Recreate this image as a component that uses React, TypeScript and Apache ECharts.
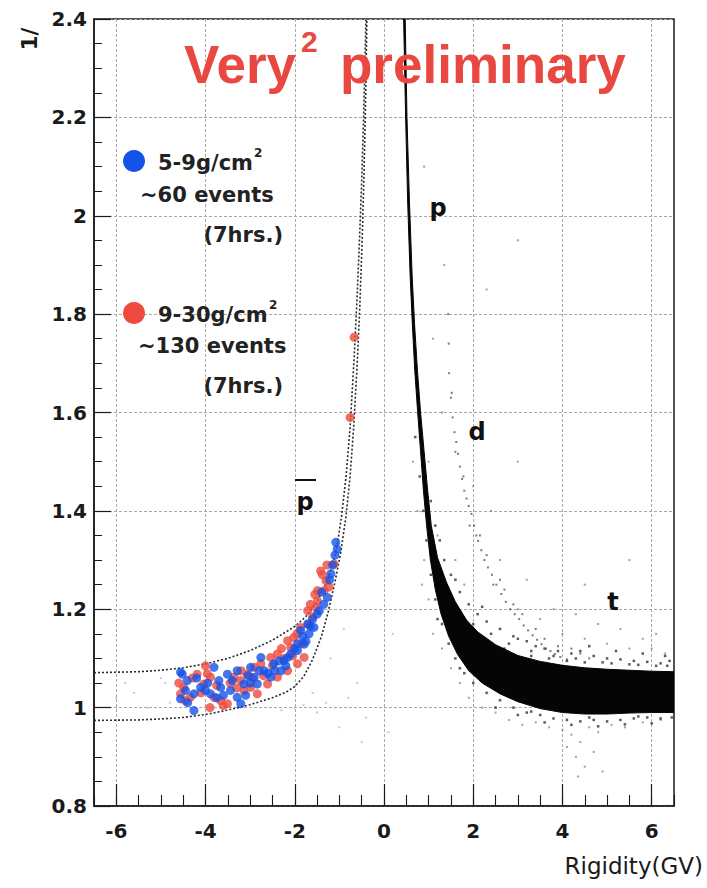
import React, { useEffect, useRef } from 'react';
import * as echarts from 'echarts';

// ---------- data ----------
const xTickValues = [-6, -4, -2, 0, 2, 4, 6];

// dashed band limits for antiprotons
const bandUpper = [
  [-6.5, 1.071], [-5.5, 1.073], [-5, 1.076], [-4.5, 1.081], [-4, 1.089], [-3.5, 1.1], [-3, 1.116],
  [-2.5, 1.137], [-2, 1.165], [-1.75, 1.185], [-1.5, 1.215], [-1.3, 1.252], [-1.15, 1.29], [-1.05, 1.33],
  [-0.95, 1.39], [-0.85, 1.47], [-0.76, 1.57], [-0.67, 1.71], [-0.6, 1.84], [-0.55, 1.95], [-0.5, 2.07],
  [-0.46, 2.19], [-0.43, 2.3], [-0.405, 2.4],
];
const bandLower = [
  [-6.5, 0.974], [-5.5, 0.975], [-5, 0.977], [-4.5, 0.98], [-4, 0.986], [-3.5, 0.995], [-3, 1.006],
  [-2.5, 1.02], [-2.2, 1.031], [-2, 1.043], [-1.8, 1.063], [-1.6, 1.098], [-1.4, 1.145], [-1.25, 1.195],
  [-1.1, 1.255], [-0.97, 1.315], [-0.85, 1.39], [-0.76, 1.47], [-0.68, 1.57], [-0.6, 1.7], [-0.54, 1.82],
  [-0.49, 1.95], [-0.45, 2.08], [-0.42, 2.2], [-0.4, 2.3], [-0.385, 2.4],
];

// proton band (dense core): outer edge and inner edge
const protonOuter = [
  [0.475, 2.4], [0.515, 2.2], [0.57, 2.03], [0.63, 1.88], [0.685, 1.78], [0.75, 1.685], [0.82, 1.6],
  [0.9, 1.52], [0.98, 1.44], [1.06, 1.37], [1.2, 1.305], [1.4, 1.255], [1.6, 1.215], [1.85, 1.178],
  [2.1, 1.154], [2.5, 1.128], [3.0, 1.106], [3.5, 1.094], [4.0, 1.086], [4.5, 1.081], [5.0, 1.078],
  [5.5, 1.076], [6.0, 1.074], [6.5, 1.073],
];
const protonInner = [
  [0.44, 2.4], [0.485, 2.2], [0.53, 2.03], [0.585, 1.88], [0.635, 1.78], [0.69, 1.685], [0.755, 1.6],
  [0.82, 1.52], [0.885, 1.44], [0.955, 1.37], [1.04, 1.3], [1.15, 1.24], [1.28, 1.19], [1.45, 1.145],
  [1.65, 1.108], [1.9, 1.075], [2.2, 1.05], [2.6, 1.028], [3.0, 1.012], [3.5, 0.998], [4.0, 0.99],
  [4.5, 0.987], [5.0, 0.987], [5.5, 0.989], [6.0, 0.99], [6.5, 0.99],
];

const protonFringe = [
  [1.05, 1.42], [1.15, 1.37], [1.25, 1.34], [1.35, 1.3], [1.5, 1.27], [1.7, 1.235], [1.9, 1.21], [2.1, 1.19],
  [2.3, 1.175], [2.6, 1.16], [2.9, 1.145], [3.2, 1.135], [3.4, 1.125], [3.6, 1.12], [3.9, 1.115], [4.2, 1.11],
  [4.4, 1.115], [4.7, 1.105], [5.0, 1.1], [5.3, 1.098], [5.6, 1.095], [5.9, 1.093], [6.2, 1.09], [6.4, 1.095],
  [2.4, 1.15], [2.8, 1.13], [3.3, 1.115], [3.8, 1.105], [4.3, 1.1], [4.9, 1.092], [5.5, 1.088], [6.1, 1.085],
  [4.6, 1.125], [5.2, 1.115], [5.8, 1.11], [6.3, 1.105], [3.0, 1.14], [2.2, 1.205], [1.6, 1.26],
  [0.7, 1.55], [0.8, 1.47], [0.88, 1.4], [0.95, 1.34], [1.05, 1.27], [1.15, 1.22], [1.3, 1.17], [1.45, 1.13],
  [1.6, 1.1], [1.8, 1.07], [2.0, 1.05], [2.3, 1.03], [2.6, 1.015], [2.9, 1.0], [3.2, 0.99], [3.5, 0.985],
  [3.8, 0.978], [4.1, 0.975], [4.4, 0.972], [4.7, 0.975], [5.0, 0.972], [5.3, 0.975], [5.6, 0.978],
  [5.9, 0.98], [6.2, 0.978], [6.45, 0.98], [2.5, 1.0], [3.0, 0.985], [3.6, 0.97], [4.2, 0.965], [4.8, 0.962],
  [5.4, 0.966], [6.0, 0.968], [1.2, 1.18], [1.7, 1.08], [3.3, 1.105], [3.7, 1.1], [4.1, 1.095], [4.5, 1.092],
  [5.1, 1.09], [5.7, 1.087], [6.35, 1.085], [2.7, 1.12], [2.0, 1.17], [1.4, 1.24], [2.45, 1.04], [3.3, 0.992],
  [4.6, 0.98], [5.7, 0.982],
];

const deuteronTrack = [
  [1.46, 1.68], [1.5, 1.63], [1.54, 1.59], [1.58, 1.56], [1.62, 1.54], [1.66, 1.516], [1.7, 1.49], [1.75, 1.465],
  [1.8, 1.441], [1.85, 1.425], [1.9, 1.41], [1.96, 1.394], [2.02, 1.37], [2.07, 1.35], [2.11, 1.339], [2.18, 1.32],
  [2.25, 1.3], [2.33, 1.285], [2.42, 1.27], [2.52, 1.25], [2.63, 1.231], [2.73, 1.215], [2.83, 1.2], [2.93, 1.19],
  [3.03, 1.18], [3.13, 1.167], [3.23, 1.157], [3.33, 1.147], [3.43, 1.138], [3.53, 1.129], [3.63, 1.12],
  [3.73, 1.115], [3.83, 1.109], [3.95, 1.103], [4.1, 1.098], [1.52, 1.64], [1.6, 1.52], [1.78, 1.47],
  [1.92, 1.37], [2.15, 1.35], [2.3, 1.31], [2.45, 1.25], [2.6, 1.26], [2.7, 1.24], [2.9, 1.21], [3.1, 1.19],
  [3.4, 1.16], [3.6, 1.14], [3.9, 1.125], [4.2, 1.12], [4.4, 1.11], [4.6, 1.1], [1.45, 1.74], [1.44, 1.8],
];

const outliers = [
  [0.9, 1.3], [1.0, 1.22], [1.1, 1.15], [0.85, 1.25], [1.3, 1.12], [1.2, 1.35], [1.5, 1.08], [1.7, 1.05],
  [1.9, 1.02], [2.2, 1.0], [2.5, 0.99], [2.8, 0.975], [3.1, 0.965], [3.4, 0.97], [3.7, 0.96], [4.0, 0.955],
  [4.2, 0.945], [4.4, 0.93], [4.6, 0.96], [4.8, 0.95], [5.1, 0.965], [5.4, 0.96], [5.8, 0.97], [6.2, 0.975],
  [4.3, 0.9], [4.5, 0.88], [4.1, 0.92], [4.7, 0.91], [4.9, 0.87], [4.35, 0.86], [3.0, 1.2], [3.5, 1.18],
  [4.0, 1.15], [4.5, 1.14], [5.0, 1.13], [5.5, 1.12], [6.0, 1.12], [6.3, 1.11], [4.8, 1.17], [5.3, 1.16],
  [5.8, 1.14], [3.8, 1.2], [4.3, 1.19], [5.2, 1.2], [6.1, 1.15], [2.6, 1.3], [3.2, 1.26], [2.0, 1.45],
  [2.4, 1.4], [3.0, 1.5], [4.5, 1.25], [5.5, 1.3], [1.3, 1.6], [1.1, 1.75], [1.35, 1.9], [2.3, 1.85],
  [0.9, 2.1], [3.0, 1.95], [0.75, 1.4], [0.8, 1.55], [0.65, 1.5], [1.0, 1.5], [1.6, 1.3], [1.8, 1.25],
];

const faintPoints = [
  [-2.0, 1.0], [-1.8, 1.005], [-1.5, 0.99], [-1.3, 1.01], [-1.1, 1.0], [-1.6, 1.03], [-2.3, 0.995],
  [-4.8, 1.01], [-5.3, 1.0], [-5.6, 1.03], [-4.9, 1.05], [-1.2, 1.1], [-0.9, 1.16], [-0.6, 1.05],
  [-0.4, 0.98], [-1.0, 0.96], [-0.8, 1.02], [-5.0, 1.06], [-0.5, 0.93], [-6.0, 1.02], [-5.8, 1.05],
  [0.2, 1.15], [0.1, 0.95],
];

// antiproton candidates, 9-30 g/cm2 (red)
const redEvents = [
  [-0.67, 1.753], [-0.76, 1.59], [-1.12, 1.292], [-1.3, 1.258], [-1.34, 1.238], [-1.42, 1.278], [-1.23, 1.245],
  [-1.49, 1.217], [-1.49, 1.238], [-1.53, 1.204], [-1.6, 1.184], [-1.71, 1.197], [-1.79, 1.102], [-1.87, 1.163],
  [-1.94, 1.089], [-2.02, 1.143], [-2.09, 1.122], [-2.16, 1.136], [-2.16, 1.075], [-2.39, 1.109], [-2.39, 1.062],
  [-2.54, 1.102], [-2.61, 1.048], [-2.76, 1.089], [-2.84, 1.028], [-2.91, 1.082], [-2.99, 1.041], [-3.06, 1.068],
  [-3.14, 1.035], [-3.21, 1.055], [-3.36, 1.062], [-3.51, 1.008], [-3.66, 1.014], [-3.81, 1.021], [-3.89, 1.062],
  [-4.04, 1.048], [-4.19, 1.068], [-4.34, 1.021], [-4.49, 1.041], [-4.56, 1.028], [-4.6, 1.05], [-4.45, 1.014],
  [-3.6, 1.004], [-3.96, 1.069], [-2.3, 1.12], [-1.95, 1.15], [-1.65, 1.21], [-1.38, 1.27], [-3.3, 1.04],
  [-2.7, 1.065], [-4.3, 1.06], [-4.1, 1.03], [-3.75, 1.045], [-3.45, 1.05], [-3.2, 1.075], [-2.95, 1.06],
  [-2.5, 1.085], [-2.25, 1.1], [-2.05, 1.105], [-1.85, 1.13], [-1.7, 1.17], [-1.55, 1.23], [-1.28, 1.29],
  [-3.9, 1.0], [-4.0, 1.085],
];

// antiproton candidates, 5-9 g/cm2 (blue)
const blueEvents = [
  [-1.08, 1.336], [-1.05, 1.322], [-1.19, 1.272], [-1.27, 1.224], [-1.45, 1.197], [-1.57, 1.163], [-1.68, 1.15],
  [-1.71, 1.17], [-1.79, 1.129], [-1.87, 1.157], [-1.94, 1.116], [-2.09, 1.109], [-2.16, 1.102], [-2.24, 1.096],
  [-2.31, 1.075], [-2.47, 1.089], [-2.54, 1.062], [-2.69, 1.075], [-2.76, 1.102], [-2.84, 1.048], [-2.91, 1.062],
  [-2.99, 1.082], [-3.14, 1.048], [-3.21, 1.008], [-3.29, 1.075], [-3.29, 1.021], [-3.44, 1.035], [-3.51, 1.068],
  [-3.66, 1.041], [-3.7, 1.055], [-3.81, 1.082], [-3.89, 1.028], [-4.11, 1.041], [-4.26, 1.028], [-4.26, 0.994],
  [-4.41, 1.055], [-4.52, 1.068], [-4.56, 1.018], [-4.56, 1.072], [-4.0, 1.035], [-3.0, 1.05], [-2.6, 1.07],
  [-2.2, 1.085], [-1.94, 1.13], [-1.75, 1.135], [-1.6, 1.18], [-1.35, 1.21], [-1.22, 1.26], [-1.1, 1.31],
  [-4.4, 1.01], [-3.1, 1.025], [-4.2, 1.06], [-3.95, 1.05], [-3.6, 1.025], [-3.4, 1.055], [-3.05, 1.065],
  [-2.8, 1.075], [-2.45, 1.075], [-2.35, 1.095], [-2.0, 1.12], [-1.82, 1.145], [-1.65, 1.165], [-1.5, 1.19],
  [-1.4, 1.235], [-1.15, 1.29], [-3.75, 1.02], [-4.45, 1.035],
];

// ---------- styling ----------
const RED = '#ee4a3d';
const BLUE = '#1552e8';
const TITLE_RED = '#e8483f';
const LABEL_FONT = '"DejaVu Sans", "Liberation Sans", sans-serif';

function polygonSeries(points: number[][], fill: string, z: number) {
  return {
    type: 'custom',
    coordinateSystem: 'cartesian2d',
    silent: true,
    clip: true,
    z,
    data: points,
    encode: { x: 0, y: 1 },
    renderItem: (params: any, api: any) => {
      if (params.dataIndex !== 0) return null;
      const pts = points.map((p) => api.coord(p));
      return {
        type: 'polygon',
        shape: { points: pts },
        style: { fill, stroke: fill, lineWidth: 1 },
      };
    },
  };
}

function txt(text: string, x: number, y: number, font: string, fill: string, align = 'left', extra: any = {}) {
  return {
    type: 'text',
    x,
    y,
    silent: true,
    z: 100,
    ...extra,
    style: {
      text,
      font,
      fill,
      align,
      textAlign: align,
      verticalAlign: 'middle',
      textVerticalAlign: 'middle',
    },
  };
}

export default function App() {
  const ref = useRef<HTMLDivElement>(null);

  useEffect(() => {
    if (!ref.current) return;
    const chart = echarts.init(ref.current, undefined, { renderer: 'svg' });
    const protonPolygon = protonOuter.concat(protonInner.slice().reverse());

    const legendFont = `bold 21px ${LABEL_FONT}`;
    const supFont = `bold 12px ${LABEL_FONT}`;
    const letterFont = `bold 24px ${LABEL_FONT}`;

    chart.setOption({
      animation: false,
      backgroundColor: '#ffffff',
      grid: {
        left: 94,
        right: 33,
        top: 19,
        bottom: 82,
        show: true,
        borderColor: '#1a1a1a',
        borderWidth: 1.5,
        backgroundColor: 'transparent',
      },
      xAxis: [
        {
          type: 'value',
          min: -6.5,
          max: 6.5,
          position: 'bottom',
          axisLine: { show: true, onZero: false, lineStyle: { color: '#1a1a1a', width: 1.5 } },
          axisTick: { show: true, inside: true, length: 22, customValues: xTickValues, lineStyle: { color: '#1a1a1a', width: 1.2 } },
          axisLabel: {
            customValues: xTickValues,
            fontFamily: LABEL_FONT,
            fontWeight: 'bold',
            fontSize: 20,
            color: '#1a1a1a',
            margin: 15,
          },
          splitLine: { show: true, lineStyle: { color: '#a8a8a8', type: [3, 2], width: 1 } },
        },
        {
          type: 'value',
          min: -6.5,
          max: 6.5,
          interval: 0.5,
          position: 'bottom',
          axisLine: { show: false, onZero: false },
          axisTick: { show: true, inside: true, length: 11, lineStyle: { color: '#1a1a1a', width: 1.1 } },
          axisLabel: { show: false },
          splitLine: { show: false },
        },
      ],
      yAxis: {
        type: 'value',
        min: 0.8,
        max: 2.4,
        interval: 0.2,
        axisLine: { show: true, onZero: false, lineStyle: { color: '#1a1a1a', width: 1.5 } },
        axisTick: { show: true, inside: true, length: 17, lineStyle: { color: '#1a1a1a', width: 1.2 } },
        minorTick: { show: true, splitNumber: 4, length: 8, lineStyle: { color: '#1a1a1a', width: 1 } },
        axisLabel: {
          fontFamily: LABEL_FONT,
          fontWeight: 'bold',
          fontSize: 20,
          color: '#1a1a1a',
          margin: 7,
          formatter: (v: number) => String(Math.round(v * 10) / 10),
        },
        splitLine: { show: true, lineStyle: { color: '#a8a8a8', type: [3, 2], width: 1 } },
      },
      series: [
        {
          type: 'scatter',
          data: faintPoints,
          symbol: 'rect',
          symbolSize: 2,
          itemStyle: { color: '#bdbdbd' },
          silent: true,
          z: 2,
        },
        {
          type: 'scatter',
          data: outliers,
          symbol: 'rect',
          symbolSize: 2,
          itemStyle: { color: '#8a8a8a' },
          silent: true,
          z: 2,
        },
        {
          type: 'scatter',
          data: deuteronTrack,
          symbol: 'rect',
          symbolSize: 2,
          itemStyle: { color: '#5a5a5a' },
          silent: true,
          z: 2,
        },
        {
          type: 'scatter',
          data: protonFringe,
          symbol: 'rect',
          symbolSize: 2.5,
          itemStyle: { color: '#333333' },
          silent: true,
          z: 2,
        },
        polygonSeries(protonPolygon, '#050505', 3),
        {
          type: 'line',
          data: bandUpper,
          showSymbol: false,
          smooth: false,
          silent: true,
          z: 4,
          lineStyle: { color: '#2a2a2a', width: 1.6, type: [2, 2] },
        },
        {
          type: 'line',
          data: bandLower,
          showSymbol: false,
          smooth: false,
          silent: true,
          z: 4,
          lineStyle: { color: '#2a2a2a', width: 1.6, type: [2, 2] },
        },
        {
          type: 'scatter',
          name: '9-30g/cm2',
          data: redEvents,
          symbol: 'circle',
          symbolSize: 9,
          itemStyle: { color: RED },
          silent: true,
          z: 5,
        },
        {
          type: 'scatter',
          name: '5-9g/cm2',
          data: blueEvents,
          symbol: 'circle',
          symbolSize: 9,
          itemStyle: { color: BLUE },
          silent: true,
          z: 6,
        },
      ],
      graphic: [
        // title
        txt('Very', 184, 64, 'bold 53px "Liberation Sans", Arial, sans-serif', TITLE_RED),
        txt('2', 301, 41, 'bold 30px "Liberation Sans", Arial, sans-serif', TITLE_RED),
        txt('preliminary', 340, 64, 'bold 53px "Liberation Sans", Arial, sans-serif', TITLE_RED),
        // legend
        { type: 'circle', shape: { cx: 134, cy: 161, r: 11 }, style: { fill: BLUE }, z: 100, silent: true },
        txt('5-9g/cm', 158, 162.7, legendFont, '#222'),
        txt('2', 254, 153, supFont, '#222'),
        txt('~60 events', 140, 194.7, legendFont, '#222'),
        txt('(7hrs.)', 283, 234.7, legendFont, '#222', 'right'),
        { type: 'circle', shape: { cx: 134, cy: 313, r: 11 }, style: { fill: RED }, z: 100, silent: true },
        txt('9-30g/cm', 158, 314.7, legendFont, '#222'),
        txt('2', 269, 305, supFont, '#222'),
        txt('~130 events', 138, 345.7, legendFont, '#222'),
        txt('(7hrs.)', 283, 385.7, legendFont, '#222', 'right'),
        // particle labels
        txt('p', 438, 207.7, letterFont, '#111', 'center'),
        txt('d', 477, 431.7, letterFont, '#111', 'center'),
        txt('t', 613, 601.7, letterFont, '#111', 'center'),
        txt('p', 305, 501.7, letterFont, '#111', 'center'),
        { type: 'line', shape: { x1: 295, y1: 480, x2: 316, y2: 480 }, style: { stroke: '#111', lineWidth: 2 }, z: 100, silent: true },
        // axis titles
        txt('1/', 30, 39, `bold 21px ${LABEL_FONT}`, '#1a1a1a', 'center', { rotation: Math.PI / 2 }),
        txt('Rigidity(GV)', 703, 866, `23px ${LABEL_FONT}`, '#1a1a1a', 'right'),
      ],
    });

    return () => {
      chart.dispose();
    };
  }, []);

  return (
    <div
      ref={ref}
      style={{ position: 'absolute', left: 0, top: 0, width: 707, height: 888 }}
    />
  );
}
